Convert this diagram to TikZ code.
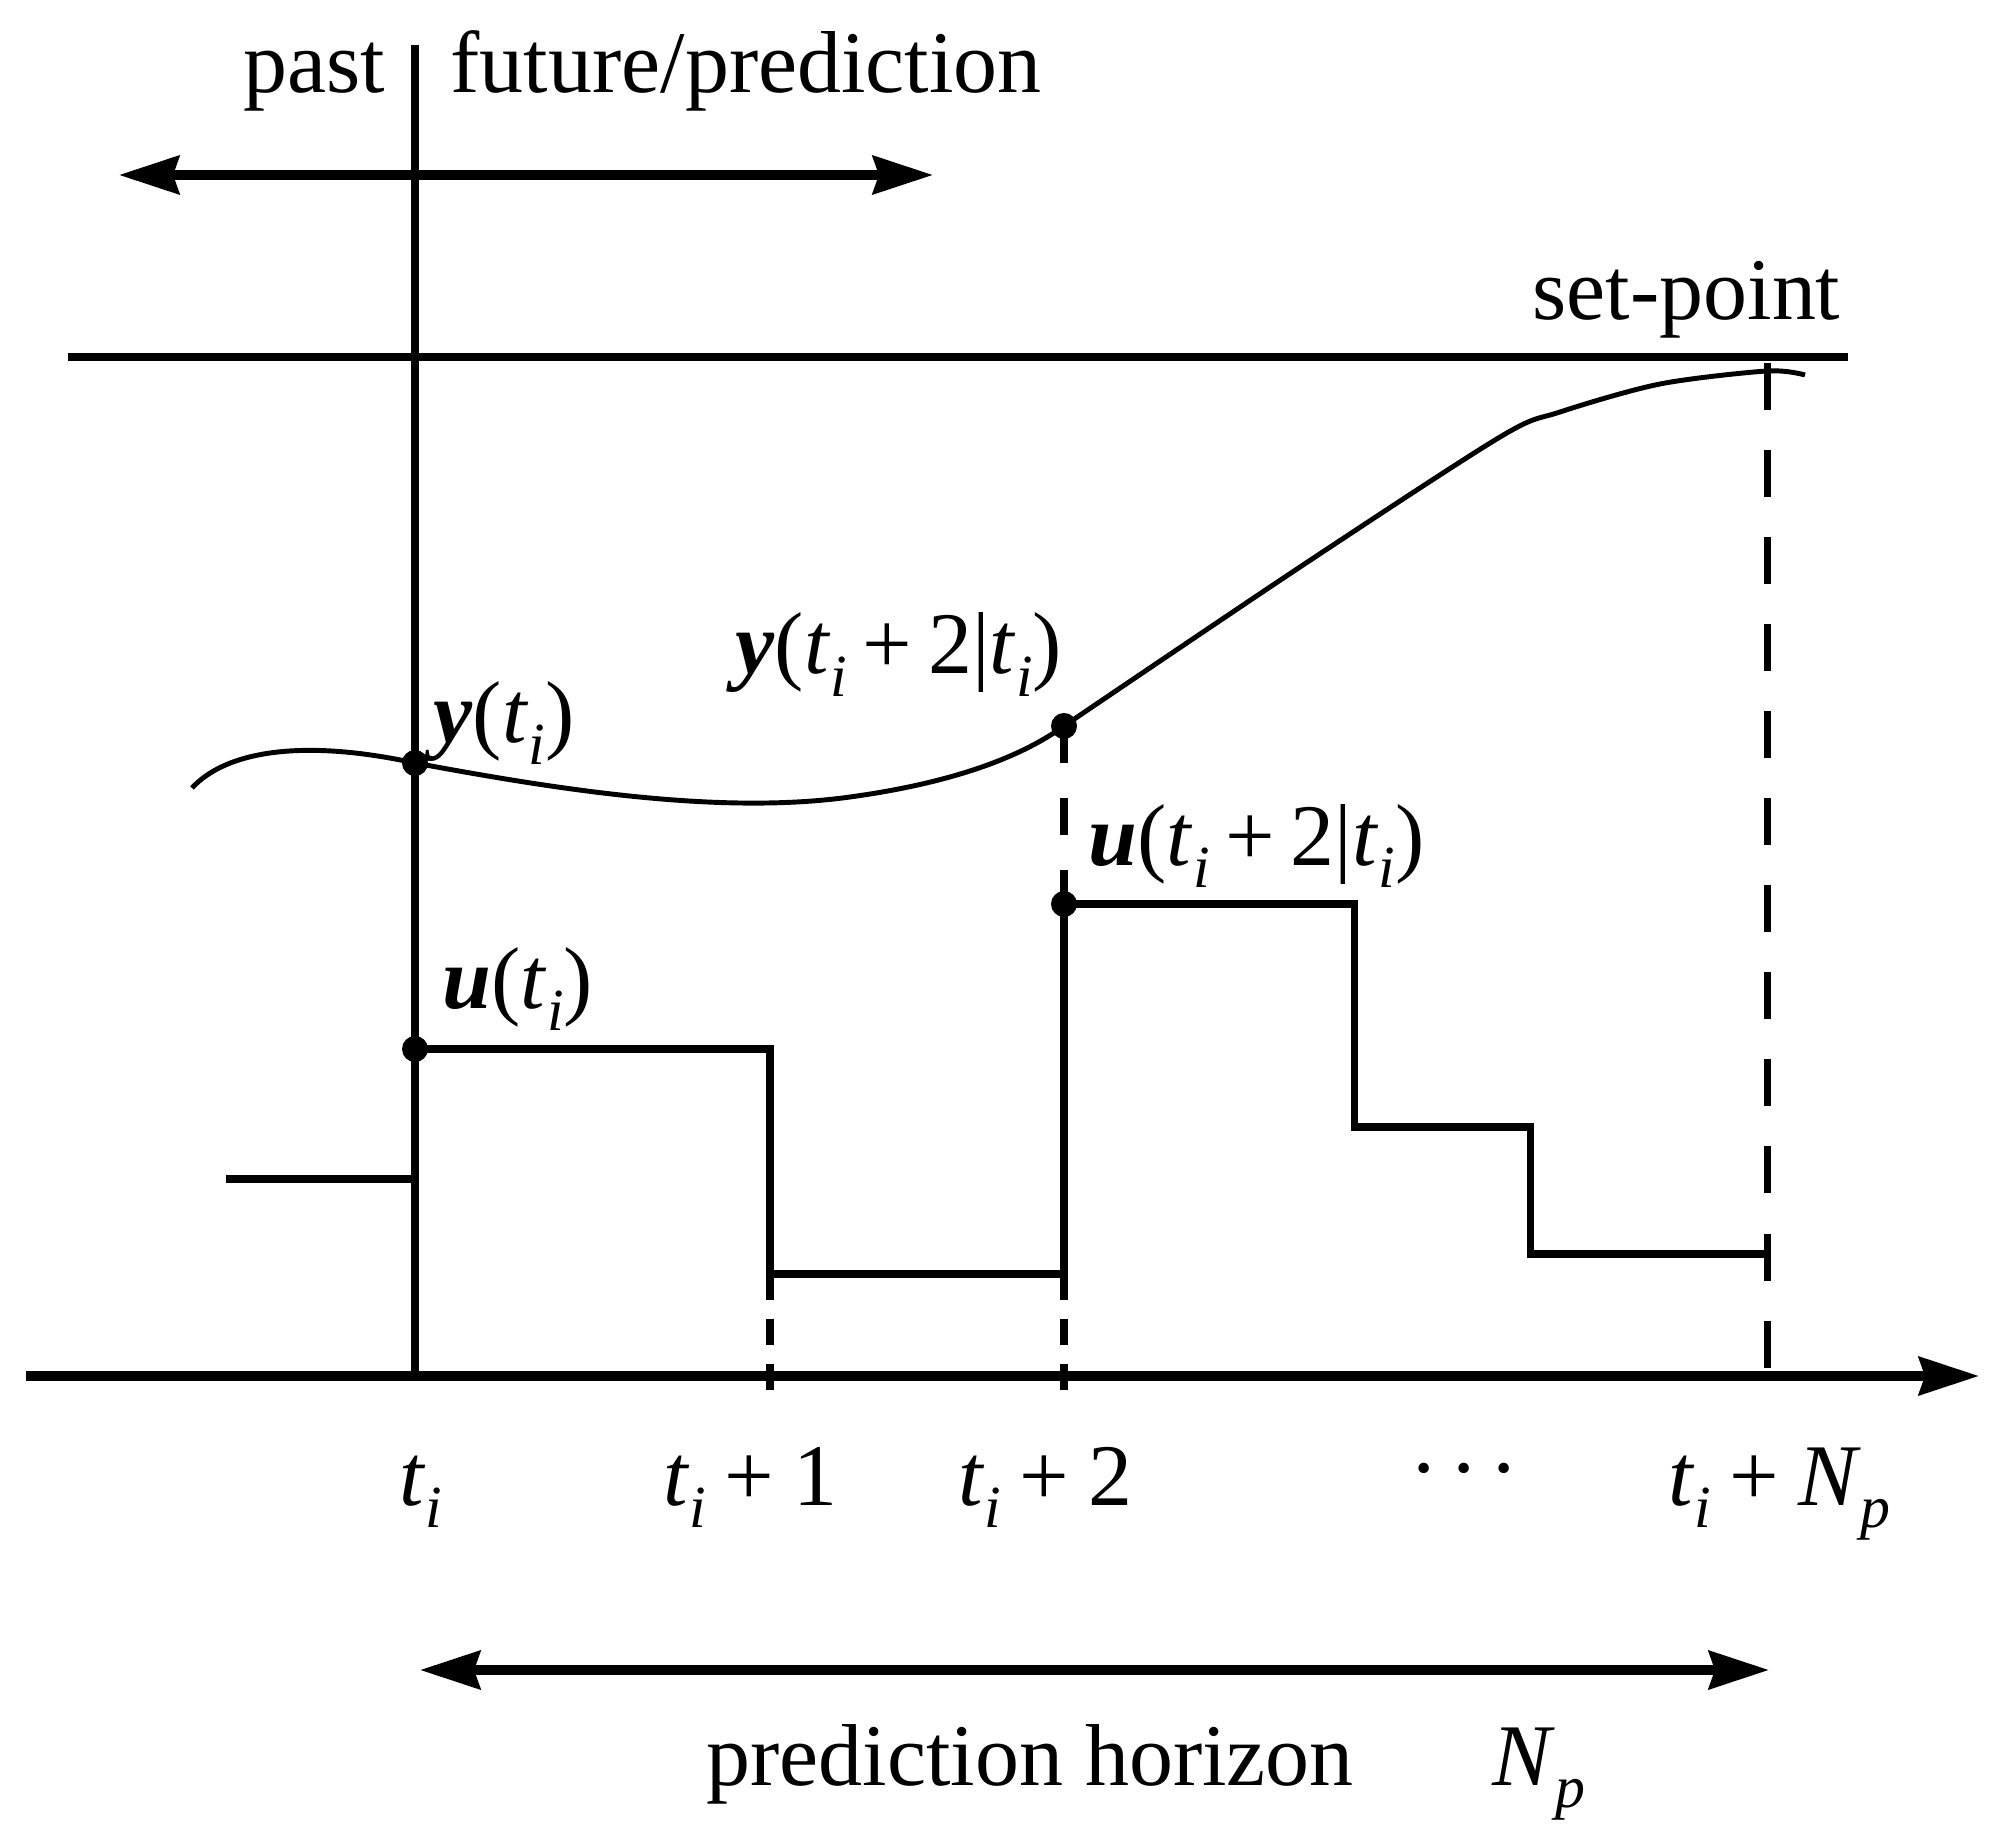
\documentclass[tikz,border=0pt]{standalone}
\usepackage{fontspec}
\setmainfont{Liberation Serif}
\usetikzlibrary{arrows.meta}
\newcommand{\isub}[1]{\raisebox{-0.26em}{\fontsize{17}{17}\selectfont\itshape #1}}
\newcommand{\tsym}{\textit{t}\isub{i}}
\newcommand{\pls}{\hspace{0.18em}+\hspace{0.18em}}
\newcommand{\plsw}{\hspace{0.2em}+\hspace{0.22em}}
\begin{document}
\begin{tikzpicture}[x=0.01cm, y=-0.01cm,
  font=\fontsize{25}{30}\selectfont,
  lbl/.style={inner sep=0pt, anchor=base west},
  mainline/.style={line width=2.1pt},
  stepline/.style={line width=2pt, line join=miter},
  axisline/.style={line width=2.6pt},
  spline/.style={line width=2.4pt},
  curveline/.style={line width=1.4pt},
  dashA/.style={line width=2pt, dash pattern=on 0.26cm off 0.19cm},
  dashB/.style={line width=2pt, dash pattern=on 0.37cm off 0.35cm},
  dashC/.style={line width=2pt, dash pattern=on 0.47cm off 0.40cm},
  tip/.tip={Stealth[length=0.6cm,width=0.38cm,inset=0.06cm]},
  dblarrow/.style={line width=2.6pt, tip-tip},
  onearrow/.style={line width=2.6pt, -tip}]
\useasboundingbox (0,0) rectangle (2003,1846);

% key points
\coordinate (vtop) at (415,45);
\coordinate (vbot) at (415,1376);
\coordinate (axL) at (26,1376);
\coordinate (axR) at (1979,1376);
\coordinate (topL) at (119,175);
\coordinate (topR) at (933,175);
\coordinate (spL) at (68,357);
\coordinate (spR) at (1848,357);
\coordinate (botL) at (420,1670);
\coordinate (botR) at (1769,1670);
\coordinate (yti) at (415,763);
\coordinate (yt2) at (1064,726);
\coordinate (ut2) at (1064,904);
\coordinate (uti) at (415,1049);
\coordinate (pastL) at (226,1179);
\coordinate (pastR) at (415,1179);
\coordinate (s1) at (770,1049);
\coordinate (s2) at (770,1274);
\coordinate (s3) at (1064,1274);
\coordinate (s4) at (1354,904);
\coordinate (s5) at (1354,1127);
\coordinate (s6) at (1530,1127);
\coordinate (s7) at (1530,1254);
\coordinate (s8) at (1767,1254);
\coordinate (d1b) at (770,1390);
\coordinate (d2b) at (1064,1390);
\coordinate (npT) at (1767,363);
\coordinate (npB) at (1767,1376);
\coordinate (cstart) at (192,788);
\coordinate (cmid) at (850,797);
\coordinate (cend) at (1805,375);

% axes and reference lines
\draw[mainline] (vtop) -- (vbot);
\draw[onearrow] (axL) -- (axR);
\draw[dblarrow] (topL) -- (topR);
\draw[spline] (spL) -- (spR);
\draw[dblarrow] (botL) -- (botR);

% output curve
\draw[curveline] (cstart) .. controls (225,752) and (300,738) .. (yti)
  .. controls (560,790) and (720,815) .. (cmid)
  .. controls (930,786) and (1010,765) .. (yt2);
\draw[curveline] plot[smooth, tension=0.5] coordinates {(1064,726) (1300,567) (1500,437) (1560,412) (1660,384) (1767,371) (1805,375)};

% input steps
\draw[stepline] (pastL) -- (pastR);
\draw[stepline] (uti) -- (s1) -- (s2) -- (s3) -- (ut2) -- (s4) -- (s5) -- (s6) -- (s7) -- (s8);

% dashed verticals
\draw[dashA] (s2) -- (d1b);
\draw[dashA] (s3) -- (d2b);
\draw[dashB] (yt2) -- (ut2);
\draw[dashC] (npT) -- (npB);

% dots
\fill (yti) circle (0.13cm);
\fill (yt2) circle (0.13cm);
\fill (ut2) circle (0.13cm);
\fill (uti) circle (0.13cm);

% labels
\node[inner sep=0pt, anchor=base east] (past) at (386,93) {past};
\node[lbl] (future) at (450,93) {future/prediction};
\node[lbl] (setpoint) at (1532,320) {set-point};
\node[lbl] (ylab) at (433,742) {\textbf{\textit{y}}(\tsym)};
\node[lbl] (y2lab) at (735,674) {\textbf{\textit{y}}(\tsym\pls 2|\tsym)};
\node[lbl] (u2lab) at (1088,865) {\textbf{\textit{u}}(\tsym\pls 2|\tsym)};
\node[lbl] (ulab) at (442,1008) {\textbf{\textit{u}}(\tsym)};
\node[lbl] (t0) at (399,1505) {\tsym};
\node[lbl] (t1) at (663,1505) {\tsym\plsw 1};
\node[lbl] (t2) at (958,1505) {\tsym\plsw 2};
\node[inner sep=0pt, anchor=base] (dots) at (1464,1505) {\raisebox{0.08em}{·\hspace{0.12em}·\hspace{0.12em}·}};
\node[lbl] (tn) at (1668,1505) {\tsym\plsw\textit{N}\isub{p}};
\node[lbl] (ph) at (706,1785) {prediction horizon};
\node[lbl] (np) at (1492,1785) {\textit{N}\isub{p}};
\end{tikzpicture}
\end{document}
